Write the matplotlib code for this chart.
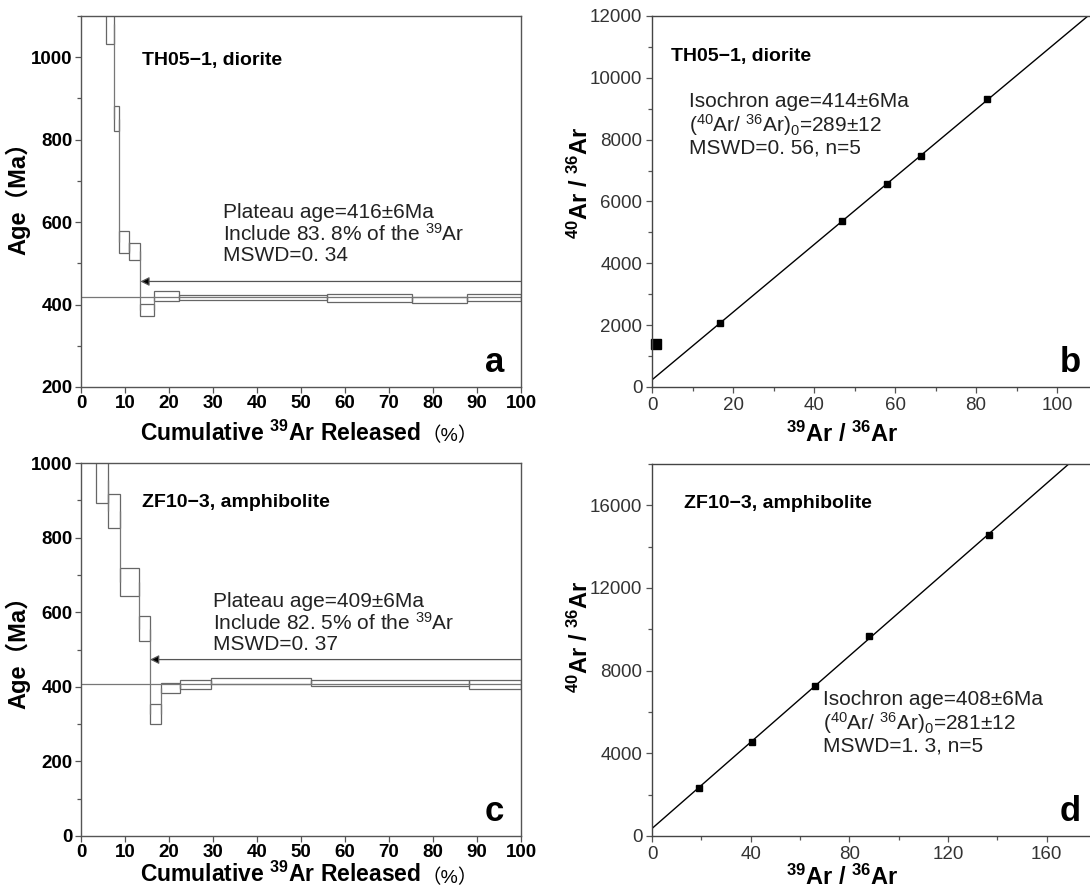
import numpy as np
import matplotlib
matplotlib.use('Agg')
import matplotlib.pyplot as plt
from matplotlib.ticker import MultipleLocator

plt.rcParams['font.family'] = ['Liberation Sans', 'Noto Sans CJK SC', 'DejaVu Sans']
plt.rcParams['mathtext.fontset'] = 'custom'
plt.rcParams['mathtext.rm'] = 'Liberation Sans'
plt.rcParams['mathtext.it'] = 'Liberation Sans:italic'
plt.rcParams['mathtext.bf'] = 'Liberation Sans:bold'

# --- age spectra (cumulative 39Ar %, step ages, 1 sigma half-heights) ---
a_cum = [5.6, 7.5, 8.7, 10.8, 13.5, 16.7, 22.3, 55.9, 75.3, 87.8, 100]
a_age = [1080, 851, 551, 529, 387, 420, 418, 416, 411, 417]
a_err = [48, 31, 27, 20, 14, 12, 6, 9, 7, 9]
a_plateau = 419
a_arrow = [13.5, 456]

c_cum = [3.4, 6.2, 8.8, 13.2, 15.7, 18.2, 22.4, 29.5, 52.3, 88.1, 100]
c_age = [955, 871, 681, 556, 327, 397, 406, 416, 410, 407]
c_err = [61, 45, 38, 34, 26, 14, 11, 8, 9, 12]
c_plateau = 408
c_arrow = [15.7, 473]

# --- isochrons ---
b_x = [16.7, 47.0, 58.1, 66.5, 82.8]
b_y = [2072, 5364, 6573, 7480, 9315]
b_out_x = [0.9]
b_out_y = [1382]

d_x = [19.0, 40.4, 66.2, 87.9, 136.7]
d_y = [2329, 4546, 7261, 9671, 14570]

W, H = 1090, 890
fig = plt.figure(figsize=(W / 100, H / 100), dpi=100)


def box(l, t, r, b):
    return [l / W, 1 - b / H, (r - l) / W, (b - t) / H]


ax_a = fig.add_axes(box(81, 16, 521, 387))
ax_c = fig.add_axes(box(81, 463, 521, 836))
ax_b = fig.add_axes(box(652, 16, 1100, 387))
ax_d = fig.add_axes(box(652, 464, 1100, 836))

gray = '#555555'


def spectrum(ax, cum, age, err, plateau, arrow, ylim, title, txt, letter,
             txt_pos, ylab_y, xlab_y):
    cum = np.array(cum)
    age = np.array(age)
    err = np.array(err)
    left = cum[:-1]
    width = np.diff(cum)
    ax.bar(left, 2 * err, width=width, bottom=age - err, align='edge',
           fill=False, edgecolor='#666666', linewidth=0.9)
    ax.vlines(cum[1:-1], age[:-1], age[1:], color='#777777', lw=0.9)
    ax.axhline(plateau, color='#777777', lw=0.9)
    ax.annotate('', xy=(arrow[0], arrow[1]), xytext=(100, arrow[1]),
                arrowprops=dict(arrowstyle='-|>', color='#555555', lw=0.9,
                                mutation_scale=13, shrinkA=0, shrinkB=0,
                                fc='black'))
    ax.set_xlim(0, 100)
    ax.set_ylim(*ylim)
    ax.xaxis.set_major_locator(MultipleLocator(10))
    ax.yaxis.set_major_locator(MultipleLocator(200))
    ax.yaxis.set_minor_locator(MultipleLocator(100))
    ax.tick_params(which='both', direction='out', color=gray, width=0.9)
    ax.tick_params(which='major', length=4, labelsize=13.5, pad=2)
    ax.tick_params(which='minor', length=3)
    for lab in ax.get_xticklabels() + ax.get_yticklabels():
        lab.set_fontweight('bold')
    for s in ax.spines.values():
        s.set_color(gray)
        s.set_linewidth(1.0)
    ax.set_ylabel('Age（Ma）', fontsize=17, fontweight='bold')
    ax.yaxis.set_label_coords(-0.114, ylab_y)
    # x label: mathtext part plus the full-width "（%）" set right after it
    t1 = ax.text(0.135, xlab_y, r'Cumulative $^{\mathbf{39}}$Ar Released',
                 transform=ax.transAxes, fontsize=16.5, fontweight='bold',
                 ha='left', va='top')
    ax.annotate('（%）', xy=(1, 0), xycoords=t1, ha='left', va='bottom',
                fontsize=14)
    ax.text(0.139, title[1], title[0], transform=ax.transAxes, fontsize=14,
            fontweight='bold', va='center', ha='left')
    ax.text(txt_pos[0], txt_pos[1], txt, transform=ax.transAxes, fontsize=15,
            va='top', ha='left', color='#222222', linespacing=1.05)
    ax.text(0.94, 0.067, letter, transform=ax.transAxes, fontsize=25,
            fontweight='bold', ha='center', va='center')


spectrum(ax_a, a_cum, a_age, a_err, a_plateau, a_arrow, (200, 1100),
         ('TH05−1, diorite', 0.881),
         'Plateau age=416±6Ma\nInclude 83. 8% of the $^{39}$Ar\nMSWD=0. 34',
         'a', (0.322, 0.495), 0.523, -0.09)
spectrum(ax_c, c_cum, c_age, c_err, c_plateau, c_arrow, (0, 1000),
         ('ZF10−3, amphibolite', 0.893),
         'Plateau age=409±6Ma\nInclude 82. 5% of the $^{39}$Ar\nMSWD=0. 37',
         'c', (0.299, 0.653), 0.507, -0.07)


def isochron(ax, x, y, xlim, ylim, xmaj, xmin, ymaj, ymin, title, txt, letter,
             txt_pos, title_x, ylab_y, xlab_y):
    k, b0 = np.polyfit(x, y, 1)
    xs = np.array(xlim)
    ax.plot(xs, b0 + k * xs, color='black', lw=1.0)
    ax.plot(x, y, 's', color='black', ms=4.5)
    ax.set_xlim(*xlim)
    ax.set_ylim(*ylim)
    ax.xaxis.set_major_locator(MultipleLocator(xmaj))
    ax.xaxis.set_minor_locator(MultipleLocator(xmin))
    ax.yaxis.set_major_locator(MultipleLocator(ymaj))
    ax.yaxis.set_minor_locator(MultipleLocator(ymin))
    ax.tick_params(which='both', direction='out', color=gray, width=0.9,
                   labelcolor='#333333')
    ax.tick_params(which='major', length=4, labelsize=13.5, pad=3)
    ax.tick_params(which='minor', length=3)
    ax.spines['right'].set_visible(False)
    for s in ['left', 'bottom', 'top']:
        ax.spines[s].set_color('#444444')
        ax.spines[s].set_linewidth(1.0)
    ax.set_ylabel(r'$^{\mathbf{40}}$Ar / $^{\mathbf{36}}$Ar', fontsize=17,
                  fontweight='bold')
    ax.yaxis.set_label_coords(-0.132, ylab_y)
    ax.set_xlabel(r'$^{\mathbf{39}}$Ar / $^{\mathbf{36}}$Ar', fontsize=17,
                  fontweight='bold')
    ax.xaxis.set_label_coords(0.424, xlab_y)
    ax.text(title_x, title[1], title[0], transform=ax.transAxes, fontsize=14,
            fontweight='bold', va='center', ha='left')
    ax.text(txt_pos[0], txt_pos[1], txt, transform=ax.transAxes, fontsize=15,
            va='top', ha='left', color='#222222', linespacing=1.05)
    ax.text(0.933, 0.065, letter, transform=ax.transAxes, fontsize=25,
            fontweight='bold', ha='center', va='center')


isochron(ax_b, b_x, b_y, (0, 110.6), (0, 12000), 20, 10, 2000, 1000,
         ('TH05−1, diorite', 0.892),
         'Isochron age=414±6Ma\n($^{40}$Ar/ $^{36}$Ar)$_0$=289±12\nMSWD=0. 56, n=5',
         'b', (0.082, 0.795), 0.042, 0.55, -0.094)
ax_b.plot(b_out_x, b_out_y, 's', color='black', ms=6.5, clip_on=False)

isochron(ax_d, d_x, d_y, (0, 181.6), (0, 18000), 40, 20, 4000, 2000,
         ('ZF10−3, amphibolite', 0.895),
         'Isochron age=408±6Ma\n($^{40}$Ar/ $^{36}$Ar)$_0$=281±12\nMSWD=1. 3, n=5',
         'd', (0.381, 0.392), 0.071, 0.535, -0.078)

fig.savefig('out.png', dpi=100)
